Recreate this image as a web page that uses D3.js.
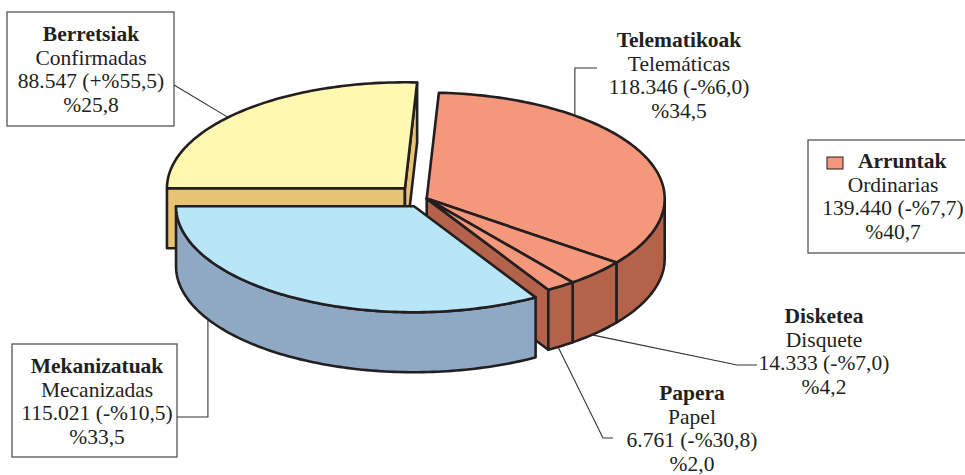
<!DOCTYPE html>
<html>
<head>
<meta charset="utf-8">
<script src="https://cdn.jsdelivr.net/npm/d3@7"></script>
<style>
    body { margin: 0; background: #fff; }
    svg { display: block; }
    text { font-family: "Liberation Serif", "DejaVu Serif", serif; }
</style>
</head>
<body>
<script>
"use strict";
(function () {
    // slices, clockwise from the left edge of the pie
    const labelsEu = ["Berretsiak", "Telematikoak", "Disketea", "Papera", "Mekanizatuak"]
    const labelsEs = ["Confirmadas", "Telemáticas", "Disquete", "Papel", "Mecanizadas"]
    const counts = [88547, 118346, 14333, 6761, 115021]
    const changes = ["+%55,5", "-%6,0", "-%7,0", "-%30,8", "-%10,5"]
    const shares = ["25,8", "34,5", "4,2", "2,0", "33,5"]
    const groups = ["Berretsiak", "Arruntak", "Arruntak", "Arruntak", "Mekanizatuak"]

    // total of the three "Arruntak" slices
    const totalEu = "Arruntak"
    const totalEs = "Ordinarias"
    const totalCount = 139440
    const totalChange = "-%7,7"
    const totalShare = "40,7"

    const measurements = { width: 965, height: 475, cx: 417, cy: 201, rx: 238, ry: 106, depth: 60 }
    const explode = { Berretsiak: 17.5, Arruntak: 10, Mekanizatuak: 6 }
    const colors = {
        Berretsiak: { top: "#fff8b0", side: "#e8c373" },
        Arruntak: { top: "#f4977a", side: "#b5624b" },
        Mekanizatuak: { top: "#b9e5f9", side: "#8fa9c4" }
    }
    const ink = "#231f20"
    const serif = "'Liberation Serif', 'DejaVu Serif', serif"
    const lineH = 23.7

    const fmt = d3.formatLocale({ decimal: ",", thousands: ".", grouping: [3], currency: ["", ""] }).format(",d")

    const data = counts.map((c, i) => ({
        eu: labelsEu[i], es: labelsEs[i], count: c, change: changes[i], share: shares[i], group: groups[i]
    }))

    const svg = d3.select("body").append("svg")
        .attr("width", measurements.width)
        .attr("height", measurements.height)

    // d3.pie angles start at 12 o'clock; shift so 0 = 3 o'clock, clockwise on screen
    const pie = d3.pie().sort(null).value(d => d.count)
        .startAngle(Math.PI * 1.5).endAngle(Math.PI * 3.5)
    const arcs = pie(data)
    arcs.forEach(a => { a.a0 = a.startAngle - Math.PI / 2; a.a1 = a.endAngle - Math.PI / 2 })

    // group extents and exploded centres
    const groupNames = Array.from(new Set(groups))
    const groupInfo = {}
    groupNames.forEach(g => {
        const members = arcs.filter(a => a.data.group === g)
        const a0 = d3.min(members, a => a.a0)
        const a1 = d3.max(members, a => a.a1)
        const mid = (a0 + a1) / 2
        groupInfo[g] = {
            a0: a0, a1: a1, members: members,
            c: [measurements.cx + explode[g] * Math.cos(mid), measurements.cy + explode[g] * Math.sin(mid)]
        }
    })

    function pt(c, t, dz) {
        return [c[0] + measurements.rx * Math.cos(t), c[1] + measurements.ry * Math.sin(t) + (dz || 0)]
    }
    function arcPts(c, t0, t1, dz) {
        const n = Math.max(2, Math.ceil(Math.abs(t1 - t0) / 0.02))
        return d3.range(n + 1).map(i => pt(c, t0 + (t1 - t0) * i / n, dz))
    }
    const line = d3.line()
    const closed = pts => line(pts) + "Z"

    // parts of an angle range that face the viewer
    function frontRanges(a0, a1) {
        const out = []
        for (let k = 0; k <= 2; k += 2) {
            const lo = Math.max(a0, k * Math.PI), hi = Math.min(a1, (k + 1) * Math.PI)
            if (hi > lo + 1e-6) out.push([lo, hi])
        }
        return out
    }

    const pieG = svg.append("g")
        .attr("stroke", ink)
        .attr("stroke-width", 2.6)
        .attr("stroke-linejoin", "round")

    groupNames.forEach(g => {
        const info = groupInfo[g]
        const c = info.c
        const col = colors[g]

        // cut faces at the group edges
        const faces = []
        if (Math.cos(info.a0) < -1e-6) faces.push(info.a0)
        if (Math.cos(info.a1) > 1e-6) faces.push(info.a1)
        faces.forEach(t => {
            pieG.append("path")
                .attr("d", closed([c, pt(c, t), pt(c, t, measurements.depth), [c[0], c[1] + measurements.depth]]))
                .attr("fill", col.side)
        })

        // outer walls
        info.members.forEach(a => {
            frontRanges(a.a0, a.a1).forEach(r => {
                const pts = arcPts(c, r[0], r[1], 0).concat(arcPts(c, r[0], r[1], measurements.depth).reverse())
                pieG.append("path").attr("d", closed(pts)).attr("fill", col.side)
            })
        })

        // tops
        info.members.forEach(a => {
            pieG.append("path")
                .attr("d", closed([c].concat(arcPts(c, a.a0, a.a1, 0))))
                .attr("fill", col.top)
        })
    })

    const deg = Math.PI / 180
    const byName = {}
    data.forEach(d => { byName[d.eu] = d })

    // label layout: text centre, first baseline, optional box, leader (from text to anchor on the pie)
    const layout = [
        { name: "Berretsiak", x: 91, y: 41, box: [7, 12, 167, 114],
          leader: () => [[174, 85], pt(groupInfo.Berretsiak.c, 222 * deg)] },
        { name: "Telematikoak", x: 679, y: 47,
          leader: () => { const p = pt(groupInfo.Arruntak.c, 308.5 * deg); return [[597, 68], [p[0], 68], p] } },
        { name: "Disketea", x: 824, y: 323,
          leader: () => [[757, 365], [737, 365], pt(groupInfo.Arruntak.c, 46 * deg, measurements.depth)] },
        { name: "Papera", x: 692, y: 400,
          leader: () => [[613, 438], [603, 438], pt(groupInfo.Arruntak.c, 56.5 * deg, measurements.depth)] },
        { name: "Mekanizatuak", x: 97, y: 373, box: [12, 344, 165, 113],
          leader: () => { const p = pt(groupInfo.Mekanizatuak.c, 150 * deg, measurements.depth); return [[177, 417], [p[0], 417], p] } }
    ]

    const labelG = svg.append("g")

    function addText(x, y, s, bold, anchor) {
        labelG.append("text")
            .attr("x", x)
            .attr("y", y)
            .attr("text-anchor", anchor || "middle")
            .attr("fill", ink)
            .attr("font-family", serif)
            .attr("font-size", 21.5)
            .attr("font-weight", bold ? "bold" : "normal")
            .text(s)
    }

    layout.forEach(l => {
        const d = byName[l.name]
        if (l.box) {
            labelG.append("rect")
                .attr("x", l.box[0]).attr("y", l.box[1])
                .attr("width", l.box[2]).attr("height", l.box[3])
                .attr("fill", "#fff").attr("stroke", "#555").attr("stroke-width", 1.3)
        }
        labelG.append("path")
            .attr("d", line(l.leader()))
            .attr("fill", "none").attr("stroke", "#333").attr("stroke-width", 1.1)

        const lines = [d.eu, d.es, fmt(d.count) + " (" + d.change + ")", "%" + d.share]
        lines.forEach((s, i) => addText(l.x, l.y + i * lineH, s, i === 0))
    })

    // Arruntak total box with swatch
    labelG.append("rect")
        .attr("x", 808).attr("y", 140).attr("width", 185).attr("height", 113)
        .attr("fill", "#fff").attr("stroke", "#555").attr("stroke-width", 1.3)
    labelG.append("rect")
        .attr("x", 827).attr("y", 157).attr("width", 16).attr("height", 12)
        .attr("fill", colors.Arruntak.top).attr("stroke", ink).attr("stroke-width", 1)
    const totalLines = [totalEu, totalEs, fmt(totalCount) + " (" + totalChange + ")", "%" + totalShare]
    totalLines.forEach((s, i) => addText(i === 0 ? 858 : 893, 168 + i * lineH, s, i === 0, i === 0 ? "start" : "middle"))
})()
</script>
</body>
</html>
